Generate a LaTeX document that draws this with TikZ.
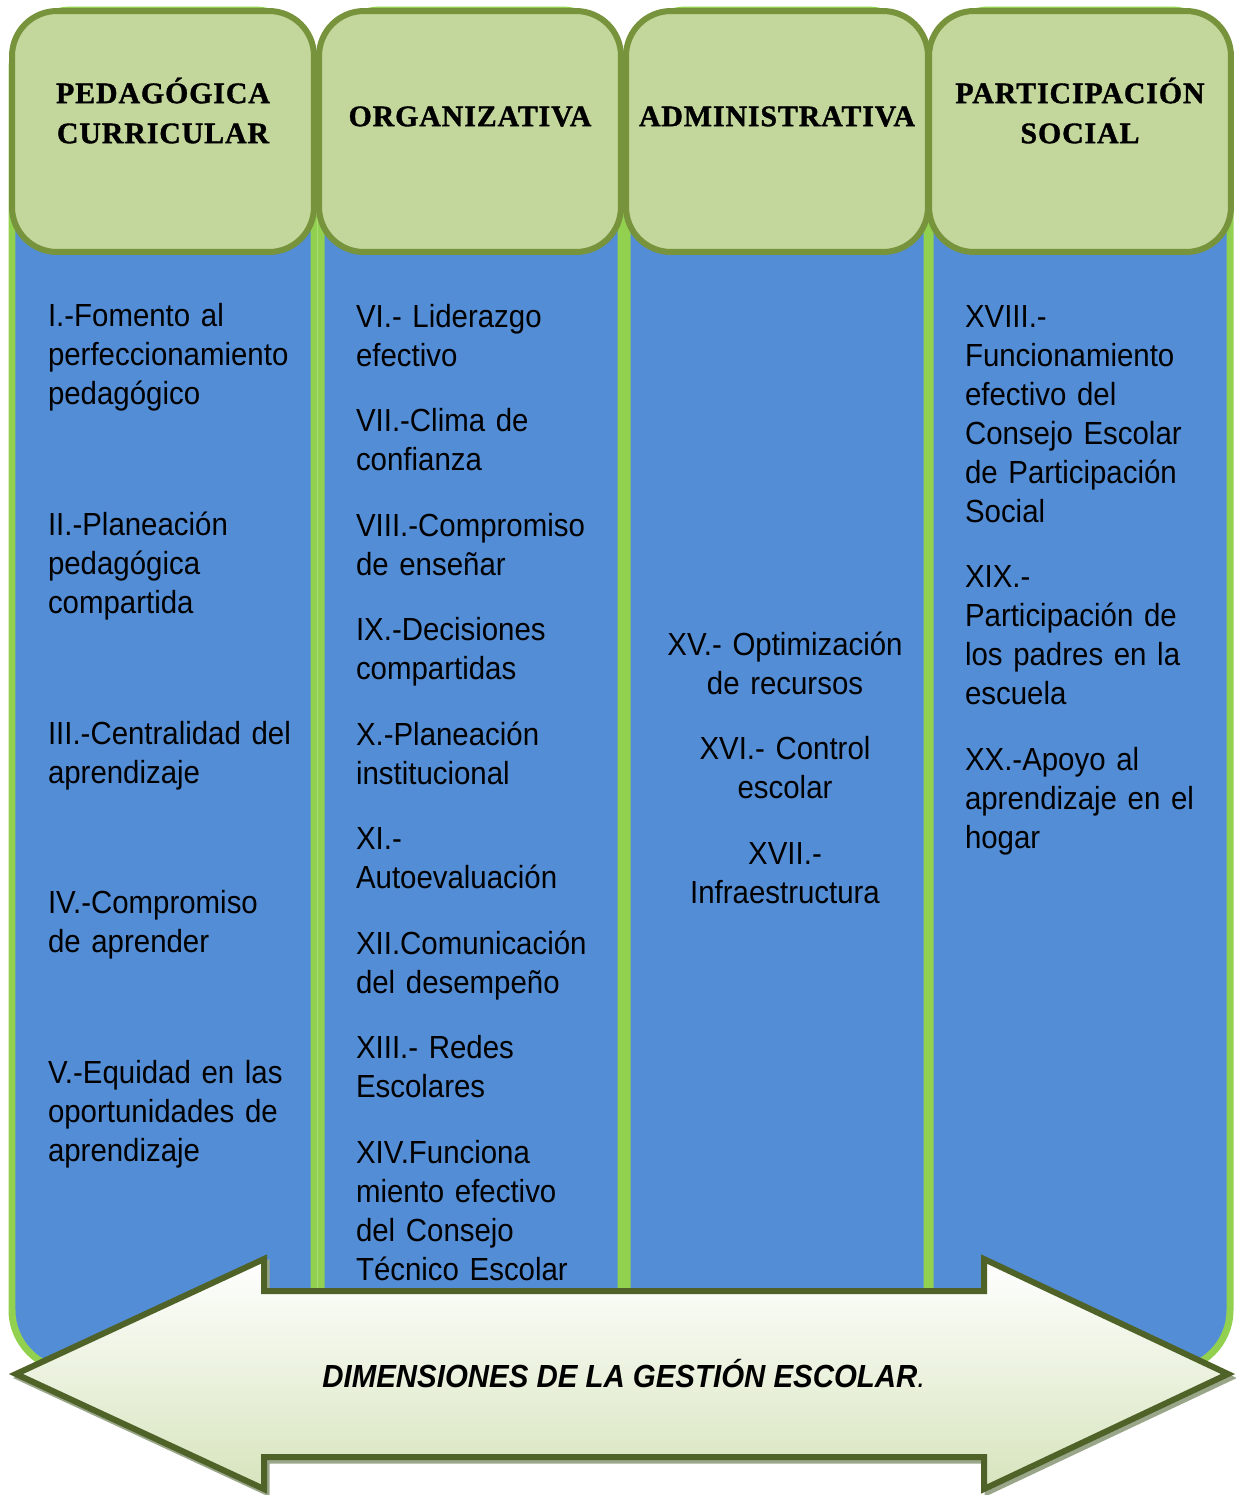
\documentclass[tikz,border=0pt]{standalone}
\usepackage{fontspec}
\usepackage{tikz}
\usetikzlibrary{positioning}
\setmainfont{Liberation Sans}
\newfontfamily\itemfont{Liberation Sans}[FakeStretch=0.92]
\newfontfamily\headfont{Liberation Serif}[LetterSpace=3, FakeBold=1.2]
\definecolor{panelblue}{HTML}{538DD5}
\definecolor{panellime}{HTML}{92D050}
\definecolor{headfill}{HTML}{C3D69B}
\definecolor{headline}{HTML}{77933C}
\definecolor{arrowline}{HTML}{4F6228}
\definecolor{arrowgreen}{HTML}{D7E4BD}
\definecolor{arrowshade}{HTML}{9AA68A}

\begin{document}
\begin{tikzpicture}[x=0.02cm, y=-0.02cm, node distance=0.53cm]
	\tikzstyle{column} = [draw=panellime, fill=panelblue, line width=0.14cm, rounded corners=1.2cm];
	\tikzstyle{head} = [rectangle, draw=headline, fill=headfill, line width=0.12cm, rounded corners=0.9cm, minimum width=6.04cm, minimum height=4.82cm];
	\tikzstyle{headtext} = [align=center, font=\headfont\fontsize{17}{22.8}\selectfont\bfseries];
	\tikzstyle{item} = [align=left, text width=5.3cm, inner sep=0, outer sep=0, font=\itemfont\fontsize{18.2}{22.2}\selectfont, execute at begin node=\strut, execute at end node=\strut];
	\tikzstyle{citem} = [item, align=center, text width=5.4cm];
	\tikzstyle{arrowbox} = [draw=arrowline, line width=0.12cm, top color=white, bottom color=arrowgreen];
	\useasboundingbox (0,0) rectangle (1235,1495);
	\draw [column] (12,10) rectangle (314,1370);
	\draw [column] (321,10) rectangle (621,1370);
	\draw [column] (627,10) rectangle (927,1370);
	\draw [column] (930,10) rectangle (1230,1370);
	\node (hpc) [head] at (163,131.5) {};
	\node (hor) [head] at (470,131.5) {};
	\node (had) [head] at (777,131.5) {};
	\node (hps) [head] at (1080,131.5) {};
	\node (tpc) [headtext] at ([yshift=0.42cm]hpc.center) {PEDAGÓGICA\\CURRICULAR};
	\node (tor) [headtext] at ([yshift=0.3cm]hor.center) {ORGANIZATIVA};
	\node (tad) [headtext] at ([yshift=0.3cm]had.center) {ADMINISTRATIVA};
	\node (tps) [headtext] at ([yshift=0.42cm]hps.center) {PARTICIPACIÓN\\SOCIAL};
	\node (i) [item, anchor=base] at (180.5,326) {I.-Fomento al\\perfeccionamiento\\pedagógico};
	\node (ii) [item, below=1.84cm of i] {II.-Planeación\\pedagógica\\compartida};
	\node (iii) [item, below=1.84cm of ii] {III.-Centralidad del\\aprendizaje};
	\node (iv) [item, below=1.84cm of iii] {IV.-Compromiso\\de aprender};
	\node (v) [item, below=1.84cm of iv] {V.-Equidad en las\\oportunidades de\\aprendizaje};
	\node (vi) [item, anchor=base] at (488.5,327) {VI.- Liderazgo\\efectivo};
	\node (vii) [item, below=of vi] {VII.-Clima de\\confianza};
	\node (viii) [item, below=of vii] {VIII.-Compromiso\\de enseñar};
	\node (ix) [item, below=of viii] {IX.-Decisiones\\compartidas};
	\node (x) [item, below=of ix] {X.-Planeación\\institucional};
	\node (xi) [item, below=of x] {XI.-\\Autoevaluación};
	\node (xii) [item, below=of xi] {XII.Comunicación\\del desempeño};
	\node (xiii) [item, below=of xii] {XIII.- Redes\\Escolares};
	\node (xiv) [item, below=of xiii] {XIV.Funciona\\miento efectivo\\del Consejo\\Técnico Escolar};
	\node (xv) [citem, anchor=base] at (785,655) {XV.- Optimización\\de recursos};
	\node (xvi) [citem, below=of xv] {XVI.- Control\\escolar};
	\node (xvii) [citem, below=of xvi] {XVII.-\\Infraestructura};
	\node (xviii) [item, anchor=base] at (1097.5,327) {XVIII.-\\Funcionamiento\\efectivo del\\Consejo Escolar\\de Participación\\Social};
	\node (xix) [item, below=of xviii] {XIX.-\\Participación de\\los padres en la\\escuela};
	\node (xx) [item, below=of xix] {XX.-Apoyo al\\aprendizaje en el\\hogar};
	\draw [draw=arrowshade, line width=0.1cm, xshift=0.06cm, yshift=-0.08cm] (16,1374) -- (264,1259) -- (264,1291) -- (984,1291) -- (984,1259) -- (1228,1374) -- (984,1489) -- (984,1457) -- (264,1457) -- (264,1489) -- cycle;
	\draw [arrowbox] (16,1374) -- (264,1259) -- (264,1291) -- (984,1291) -- (984,1259) -- (1228,1374) -- (984,1489) -- (984,1457) -- (264,1457) -- (264,1489) -- cycle;
	\node (dim) [font=\itemfont\fontsize{18.2}{22}\selectfont\bfseries\itshape, anchor=base, inner sep=0] at (624,1387) {DIMENSIONES DE LA GESTIÓN ESCOLAR{\mdseries.}};
\end{tikzpicture}
\end{document}
